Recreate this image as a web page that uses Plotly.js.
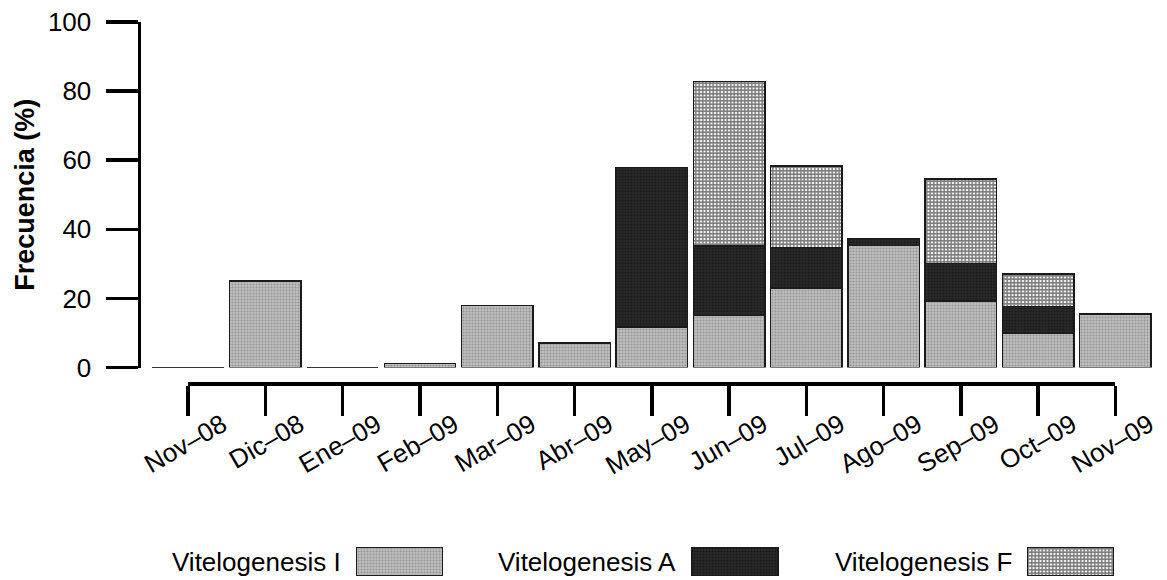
<!DOCTYPE html>
<html><head><meta charset="utf-8">
<script src="https://cdn.plot.ly/plotly-3.0.1.min.js"></script>
<style>html,body{margin:0;padding:0;background:#fff}</style>
</head><body><div id="chart" style="width:1167px;height:580px"></div>
<script>
const months = ['Nov–08','Dic–08','Ene–09','Feb–09','Mar–09','Abr–09','May–09','Jun–09','Jul–09','Ago–09','Sep–09','Oct–09','Nov–09'];
const vitI = [0, 25, 0, 1.2, 18, 7.1, 11.7, 15, 23, 35.3, 19.2, 9.8, 15.5];
const vitA = [0, 0, 0, 0, 0, 0, 46.2, 20.1, 11.7, 2, 10.9, 7.9, 0];
const vitF = [0, 0, 0, 0, 0, 0, 0, 47.7, 23.6, 0, 24.4, 9.4, 0];
const seriesNames = ['Vitelogenesis I', 'Vitelogenesis A', 'Vitelogenesis F'];
const yTicks = [0, 20, 40, 60, 80, 100];
const yTitle = 'Frecuencia (%)';

const FONT = 'Liberation Sans, Arial, sans-serif';
const styles = [
  {color: '#bdbdbd', pattern: {shape: '.', fgcolor: '#6e6e6e', size: 3, solidity: 0.35, fillmode: 'overlay'}},
  {color: '#2a2a2a', pattern: {shape: '.', fgcolor: '#080808', size: 3, solidity: 0.35, fillmode: 'overlay'}},
  {color: '#ffffff', pattern: {shape: '+', fgcolor: '#000000', size: 3.5, solidity: 0.7, fillmode: 'overlay'}}
];
const seriesVals = [vitI, vitA, vitF];
const idx = months.map((m, i) => i);

// geometry (pixels)
const W = 1167, H = 580, ML = 141, MR = 13, MT = 22, MB = 2;
const plotW = W - ML - MR, plotH = H - MT - MB, paperBottom = H - MB;
const xr = [-0.611, 12.5];
const frac = py => (paperBottom - py) / plotH;
const y0px = 367.5, xAxisPx = 382;
const legCenters = [399.5, 733, 1070.5];
const legSpacing = (legCenters[2] - legCenters[0]) / 2;
const leg0 = -(legCenters[0] - ML) / legSpacing;
const legRange = [leg0, leg0 + plotW / legSpacing];
const legBarW = 86 / legSpacing;

const traces = [];
seriesVals.forEach((vals, s) => {
  traces.push({
    type: 'bar', x: idx, y: vals, name: seriesNames[s], showlegend: false,
    marker: {color: styles[s].color, pattern: styles[s].pattern, line: {color: '#1a1a1a', width: 1.5}},
    hoverinfo: 'skip'
  });
});
// carrier for the detached category axis (invisible)
traces.push({type: 'scatter', mode: 'markers', x: idx, y: idx.map(() => 0), xaxis: 'x2', yaxis: 'y2',
  marker: {opacity: 0, size: 1}, showlegend: false, hoverinfo: 'skip'});
seriesVals.forEach((vals, s) => {
  traces.push({
    type: 'bar', x: [s], y: [1], width: legBarW, xaxis: 'x3', yaxis: 'y3', showlegend: false,
    marker: {color: styles[s].color, pattern: styles[s].pattern, line: {color: '#1a1a1a', width: 1.5}},
    hoverinfo: 'skip'
  });
});

const annotations = seriesNames.map((n, s) => ({
  xref: 'x3', yref: 'y3', x: s - legBarW / 2, y: 0.5, xanchor: 'right', yanchor: 'middle',
  xshift: -14, text: n, showarrow: false, font: {family: FONT, size: 26, color: '#000'}
}));

const layout = {
  width: W, height: H,
  margin: {l: ML, r: MR, t: MT, b: MB, pad: 0},
  paper_bgcolor: '#fff', plot_bgcolor: 'rgba(0,0,0,0)',
  barmode: 'stack', bargap: 0.075,
  showlegend: false,
  font: {family: FONT, color: '#000'},
  xaxis: {domain: [0, 1], range: xr, anchor: 'y', type: 'linear', showline: false, showgrid: false,
          zeroline: false, ticks: '', showticklabels: false, fixedrange: true},
  yaxis: {domain: [frac(y0px), 1], range: [0, 100], anchor: 'x', showline: true, linewidth: 3.5, linecolor: '#000',
          ticks: 'outside', ticklen: 32, tickwidth: 3.5, tickcolor: '#000', tickvals: yTicks, ticklabelstandoff: 9,
          tickfont: {family: FONT, size: 26, color: '#000'}, showgrid: false, zeroline: false,
          title: {text: yTitle, font: {family: FONT, size: 27, color: '#000', weight: 'bold'}, standoff: 6}},
  xaxis2: {domain: [(0 - xr[0]) / (xr[1] - xr[0]), (12 - xr[0]) / (xr[1] - xr[0])], range: [0, months.length - 1],
           anchor: 'y2', type: 'linear',
           showline: true, linewidth: 3.5, linecolor: '#000', ticks: 'outside', ticklen: 30, tickwidth: 3.5, tickcolor: '#000',
           tickvals: idx, ticktext: months, tickangle: -30, ticklabelshift: 34, ticklabelstandoff: -16,
           tickfont: {family: FONT, size: 26, color: '#000'}, showgrid: false, zeroline: false, fixedrange: true},
  yaxis2: {domain: [frac(xAxisPx), frac(xAxisPx) + 0.01], range: [0, 1], anchor: 'x2', visible: false, fixedrange: true},
  xaxis3: {domain: [0, 1], range: legRange, anchor: 'y3', visible: false, fixedrange: true},
  yaxis3: {domain: [frac(576), frac(547)], range: [0, 1], anchor: 'x3', visible: false, fixedrange: true},
  annotations: annotations
};

Plotly.newPlot('chart', traces, layout, {staticPlot: true, displayModeBar: false});
</script>
</body></html>
